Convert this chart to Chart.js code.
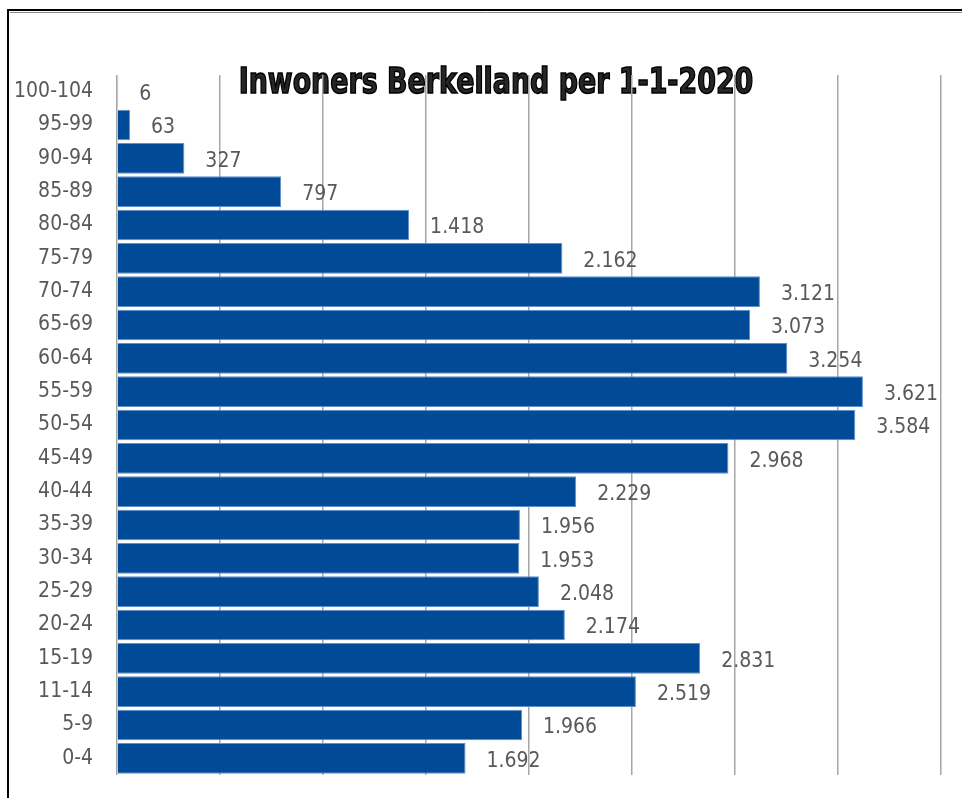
<!DOCTYPE html>
<html>
<head>
<meta charset="utf-8">
<script src="https://cdn.jsdelivr.net/npm/chart.js@4"></script>
<style>
  html, body { margin: 0; padding: 0; background: #fff; }
  #wrap { width: 962px; height: 798px; position: relative; }
</style>
</head>
<body>
<div id="wrap"><canvas id="chart"></canvas></div>
<script>
// Leeftijdsgroepen, van boven naar beneden
const ageGroups = ['100-104', '95-99', '90-94', '85-89', '80-84', '75-79', '70-74', '65-69',
    '60-64', '55-59', '50-54', '45-49', '40-44', '35-39', '30-34', '25-29', '20-24',
    '15-19', '11-14', '5-9', '0-4'];
const inhabitants = [6, 63, 327, 797, 1418, 2162, 3121, 3073, 3254, 3621, 3584, 2968,
    2229, 1956, 1953, 2048, 2174, 2831, 2519, 1966, 1692];
const xMin = 0;
const xMax = 4000;
const xStep = 500;
const chartTitle = 'Inwoners Berkelland per 1-1-2020';

const FONT = "'DejaVu Sans Condensed', 'Liberation Sans Narrow', sans-serif";

// 1418 -> "1.418"
function formatNL(n) {
    if (n < 1000) return String(n);
    const rest = String(n % 1000).padStart(3, '0');
    return Math.floor(n / 1000) + '.' + rest;
}

// Kader + titel achter de gridlijnen
const backdropPlugin = {
    id: 'backdrop',
    beforeDraw(chart) {
        const ctx = chart.ctx;
        ctx.save();
        // frame
        ctx.strokeStyle = '#8a8a8a';
        ctx.lineWidth = 1;
        ctx.beginPath();
        ctx.moveTo(10, 12.5); ctx.lineTo(970, 12.5);
        ctx.stroke();
        ctx.strokeStyle = '#000';
        ctx.lineWidth = 2;
        ctx.beginPath();
        ctx.moveTo(8, 820); ctx.lineTo(8, 10); ctx.lineTo(970, 10);
        ctx.stroke();
        // title, a bit squeezed like the original
        ctx.translate(496, 84);
        ctx.scale(0.83, 1);
        ctx.font = 'bold 36px ' + FONT;
        ctx.textAlign = 'center';
        ctx.textBaseline = 'middle';
        ctx.lineWidth = 1.5;
        ctx.strokeStyle = '#000';
        ctx.fillStyle = '#262626';
        ctx.fillText(chartTitle, 0, 0);
        ctx.strokeText(chartTitle, 0, 0);
        ctx.restore();
    }
};

// Waardelabels rechts van de balken
const valueLabels = {
    id: 'valueLabels',
    afterDatasetsDraw(chart) {
        const ctx = chart.ctx;
        const meta = chart.getDatasetMeta(0);
        ctx.save();
        ctx.font = '21px ' + FONT;
        ctx.fillStyle = '#595959';
        ctx.textAlign = 'left';
        ctx.textBaseline = 'middle';
        meta.data.forEach((bar, i) => {
            ctx.fillText(formatNL(inhabitants[i]), bar.x + 21, bar.y + 3);
        });
        ctx.restore();
    }
};

const ctx = document.getElementById('chart').getContext('2d');
new Chart(ctx, {
    type: 'bar',
    data: {
        labels: ageGroups,
        datasets: [{
            data: inhabitants,
            backgroundColor: '#004a97',
            borderColor: '#5f8fcc',
            borderWidth: 1,
            borderSkipped: 'start',
            barPercentage: 0.92,
            categoryPercentage: 1.0
        }]
    },
    options: {
        indexAxis: 'y',
        responsive: true,
        maintainAspectRatio: false,
        animation: false,
        layout: { padding: { left: 0, right: 21, top: 75, bottom: 23 } },
        plugins: {
            legend: { display: false },
            title: { display: false },
            tooltip: { enabled: false }
        },
        scales: {
            x: {
                min: xMin,
                max: xMax,
                ticks: { display: false, stepSize: xStep },
                grid: { color: '#a6a6a6', lineWidth: 1.5, drawTicks: false },
                border: { display: false },
                afterFit(scale) { scale.height = 0; }
            },
            y: {
                grid: { display: false, drawTicks: false },
                border: { display: false },
                ticks: {
                    color: '#595959',
                    font: { family: FONT, size: 21 },
                    padding: 24,
                    autoSkip: false
                },
                afterFit(scale) {
                    scale.width = 117;
                    // label padding would otherwise eat the bottom of the plot
                    scale.paddingTop = 0;
                    scale.paddingBottom = 0;
                }
            }
        }
    },
    plugins: [backdropPlugin, valueLabels]
});
</script>
</body>
</html>
